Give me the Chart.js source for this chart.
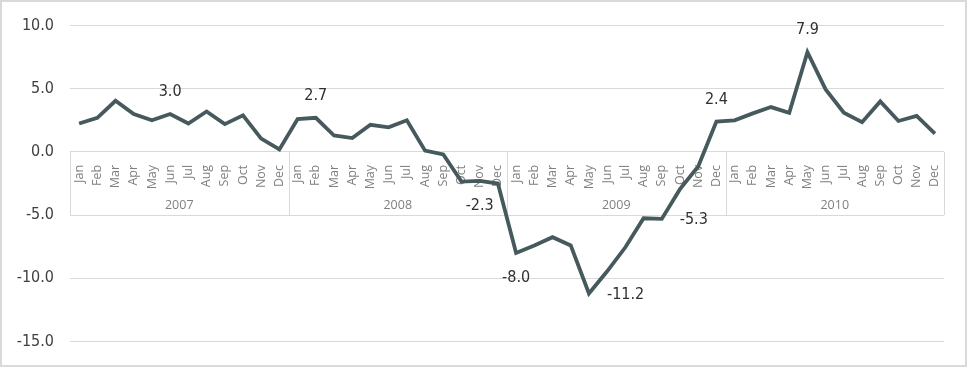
<!DOCTYPE html>
<html>
<head>
<meta charset="utf-8">
<script src="https://cdn.jsdelivr.net/npm/chart.js@4.4.1/dist/chart.umd.min.js"></script>
<style>
  html, body { margin: 0; padding: 0; background: #fff; }
  #wrap { position: relative; width: 967px; height: 367px; }
</style>
</head>
<body>
<div id="wrap"><canvas id="chart"></canvas></div>
<script>
const years = ["2007", "2008", "2009", "2010"];
const months = ["Jan", "Feb", "Mar", "Apr", "May", "Jun", "Jul", "Aug", "Sep", "Oct", "Nov", "Dec"];

const values2007 = [2.25, 2.7, 4.05, 3.0, 2.5, 3.0, 2.25, 3.2, 2.2, 2.9, 1.05, 0.2];
const values2008 = [2.6, 2.7, 1.3, 1.1, 2.15, 1.95, 2.5, 0.1, -0.2, -2.35, -2.3, -2.5];
const values2009 = [-8.0, -7.4, -6.75, -7.4, -11.2, -9.45, -7.55, -5.25, -5.3, -2.95, -1.15, 2.4];
const values2010 = [2.5, 3.05, 3.55, 3.1, 7.9, 4.95, 3.1, 2.35, 4.0, 2.45, 2.85, 1.45];

// which points carry a value label, and where it sits
const labelled = [5, 13, 22, 24, 28, 32, 35, 40];
const labelSide = ["above", "above", "below", "below", "right", "right", "above", "above"];

const Y_MIN = -15;
const Y_MAX = 10;
const Y_STEP = 5;

const COLORS = {
  line: "#46595d",
  grid: "#d9d9d9",
  tick: "#404040",
  month: "#7f7f7f",
  label: "#303030",
  frame: "#d9d9d9",
};
const NUM_FONT = "'DejaVu Sans Condensed', 'Liberation Sans Narrow', sans-serif";

const allValues = [...values2007, ...values2008, ...values2009, ...values2010];
const categories = years.flatMap(() => months);

const yearBoxPlugin = {
  id: "yearBox",
  beforeDatasetsDraw(chart) {
    const { ctx } = chart;
    const x = chart.scales.x;
    const y = chart.scales.y;
    const top = y.getPixelForValue(0);
    const bottom = y.getPixelForValue(-5);
    const half = (x.getPixelForValue(1) - x.getPixelForValue(0)) / 2;
    ctx.save();
    ctx.strokeStyle = COLORS.grid;
    ctx.lineWidth = 1;
    for (let k = 0; k <= years.length; k++) {
      const idx = k * months.length;
      const px = Math.round(x.getPixelForValue(Math.min(idx, allValues.length - 1)) + (idx >= allValues.length ? half : -half)) + 0.5;
      ctx.beginPath();
      ctx.moveTo(px, top);
      ctx.lineTo(px, bottom);
      ctx.stroke();
    }
    ctx.fillStyle = COLORS.month;
    ctx.font = "12.5px 'Open Sans', sans-serif";
    ctx.textAlign = "center";
    ctx.textBaseline = "middle";
    years.forEach((yr, k) => {
      const a = x.getPixelForValue(k * months.length);
      const b = x.getPixelForValue(k * months.length + months.length - 1);
      ctx.fillText(yr, (a + b) / 2, bottom - 10);
    });
    ctx.restore();
  },
};

const valueLabelPlugin = {
  id: "valueLabels",
  afterDatasetsDraw(chart) {
    const { ctx } = chart;
    const meta = chart.getDatasetMeta(0);
    ctx.save();
    ctx.fillStyle = COLORS.label;
    ctx.font = "16px " + NUM_FONT;
    ctx.textBaseline = "middle";
    labelled.forEach((i, n) => {
      const pt = meta.data[i];
      const text = allValues[i].toFixed(1);
      const side = labelSide[n];
      if (side === "right") {
        ctx.textAlign = "left";
        ctx.fillText(text, pt.x + 18, pt.y + 1);
      } else {
        ctx.textAlign = "center";
        ctx.fillText(text, pt.x, side === "above" ? pt.y - 22 : pt.y + 25);
      }
    });
    ctx.restore();
  },
};

const framePlugin = {
  id: "frame",
  afterDraw(chart) {
    const { ctx, width, height } = chart;
    ctx.save();
    ctx.strokeStyle = COLORS.frame;
    ctx.lineWidth = 2;
    ctx.strokeRect(1, 1, width - 2, height - 2);
    ctx.restore();
  },
};

new Chart(document.getElementById("chart"), {
  type: "line",
  data: {
    labels: categories,
    datasets: [
      {
        data: allValues,
        borderColor: COLORS.line,
        borderWidth: 3.8,
        pointRadius: 0,
        tension: 0,
        fill: false,
        borderJoinStyle: "miter",
      },
    ],
  },
  options: {
    responsive: true,
    maintainAspectRatio: false,
    animation: false,
    layout: { autoPadding: false, padding: { top: 21, right: 23, bottom: 23, left: 0 } },
    plugins: {
      legend: { display: false },
      tooltip: { enabled: false },
    },
    scales: {
      x: {
        type: "category",
        position: { y: 0 },
        offset: true,
        grid: { display: false },
        border: { display: false },
        ticks: {
          autoSkip: false,
          minRotation: 90,
          maxRotation: 90,
          padding: 5,
          color: COLORS.month,
          font: { family: "'Open Sans', sans-serif", size: 12.5 },
        },
      },
      y: {
        min: Y_MIN,
        max: Y_MAX,
        afterFit(scale) { scale.width = 70; },
        ticks: {
          stepSize: Y_STEP,
          padding: 16,
          color: COLORS.tick,
          font: { family: NUM_FONT, size: 16 },
          callback: (v) => v.toFixed(1),
        },
        grid: { color: COLORS.grid, drawTicks: false },
        border: { display: false },
      },
    },
  },
  plugins: [yearBoxPlugin, valueLabelPlugin, framePlugin],
});
</script>
</body>
</html>
